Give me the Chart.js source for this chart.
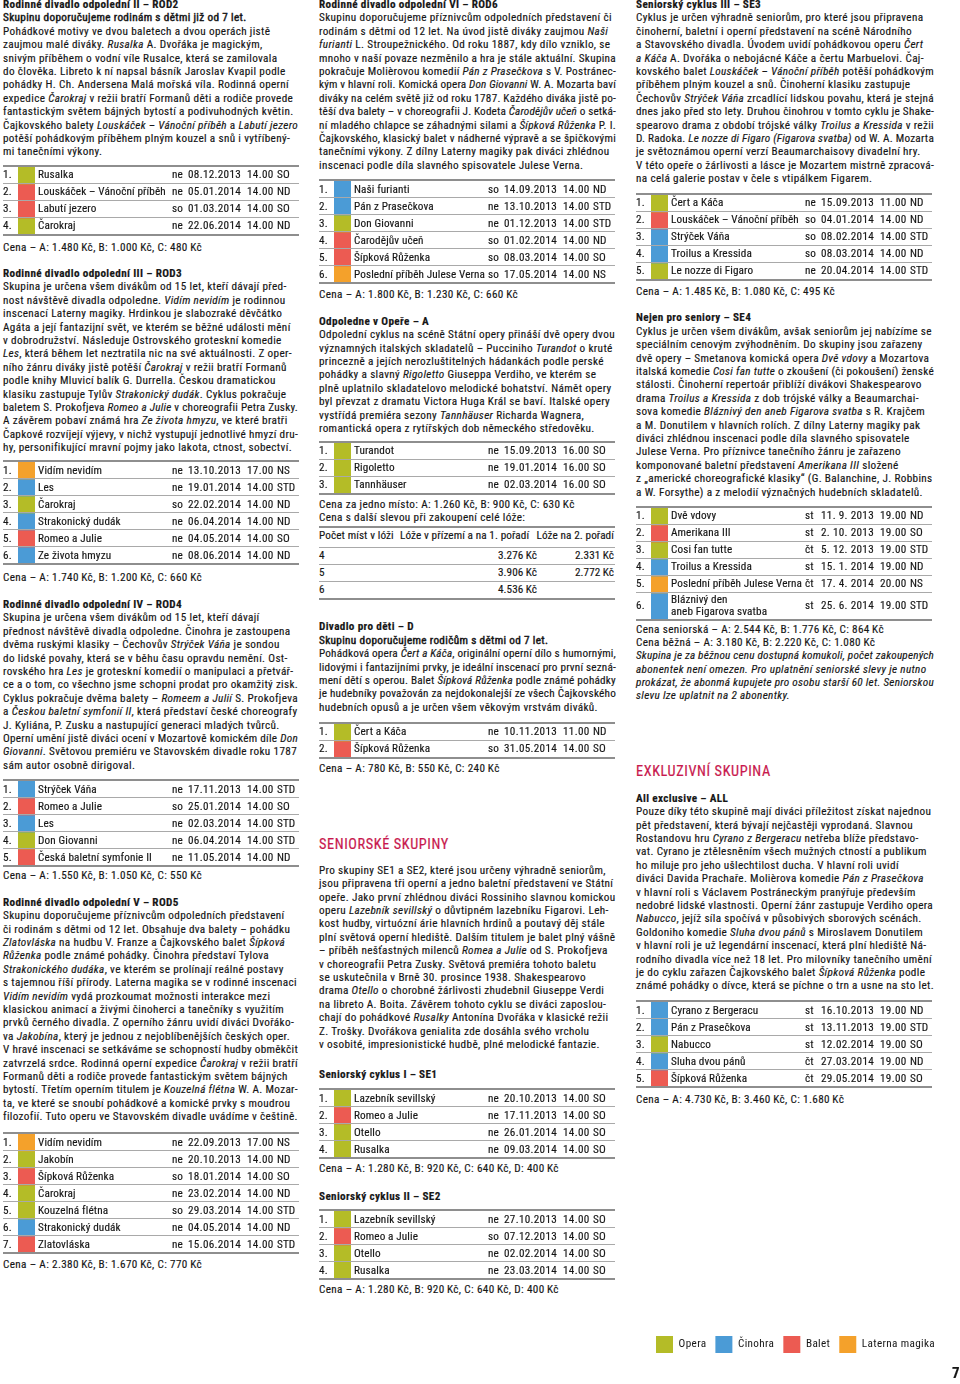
<!DOCTYPE html>
<html lang="cs">
<head>
<meta charset="utf-8">
<script src="https://cdn.jsdelivr.net/npm/chart.js@4.4.0/dist/chart.umd.min.js"></script>
<style>
html,body{margin:0;padding:0;background:#fff;}
body{width:960px;height:1384px;position:relative;overflow:hidden;font-family:"Liberation Sans Narrow","Roboto Condensed","Arial Narrow","Liberation Sans",sans-serif;font-size:11.2px;color:#161616;letter-spacing:0.35px;-webkit-text-stroke:0.15px #161616;}
.blk{position:absolute;white-space:nowrap;line-height:13.4px;}
.ln{width:max-content;white-space:nowrap;}
.m{-webkit-text-stroke:0.45px #161616;}
.tbl{position:absolute;width:296px;border-top:2px solid #8e8e8e;letter-spacing:0.12px;}
.row{position:relative;z-index:2;display:grid;grid-template-columns:15px 17px 137px 16px 59px 30px 22px;align-items:center;box-sizing:border-box;border-bottom:1px solid #a9a9a9;white-space:nowrap;line-height:13px;}
.row.last{border-bottom:2px solid #8e8e8e;}
.row .t{padding-left:3px;}
.row .t2{line-height:11.3px;}
.row .dt{letter-spacing:0.3px;}
.tbl canvas{position:absolute;left:15px;top:0;z-index:1;}
.h{position:absolute;color:#c8194e;-webkit-text-stroke:0.2px #c8194e;font-size:14.3px;letter-spacing:0.6px;line-height:16px;white-space:nowrap;}
.loge{position:absolute;width:296px;border-top:2px solid #8e8e8e;border-bottom:2px solid #8e8e8e;letter-spacing:0.1px;}
.lrow{position:relative;height:17px;line-height:16px;border-bottom:1px solid #a9a9a9;box-sizing:border-box;white-space:nowrap;}
.lrow.head{height:20px;}
.lrow.end{border-bottom:none;height:16px;}
.lrow span{position:absolute;top:0;}
.pg{position:absolute;left:952px;top:1364px;font-weight:bold;font-size:15px;line-height:18px;}
#legend{position:absolute;left:647px;top:1327px;}
</style>
</head>
<body>
<script>
// ---------- DATA ----------
const GENRES = ['Opera', 'Činohra', 'Balet', 'Laterna magika'];
const GENRE_COLORS = ['#b4bc27', '#4b9bd6', '#ec5b52', '#f4a12b'];

const rod2Titles = ['Rusalka', 'Louskáček – Vánoční příběh', 'Labutí jezero', 'Čarokraj'];
const rod2Genres = ['Opera', 'Balet', 'Balet', 'Opera'];
const rod2Slots = ['ne|08.12.2013|14.00|SO', 'ne|05.01.2014|14.00|ND', 'so|01.03.2014|14.00|SO', 'ne|22.06.2014|14.00|ND'];

const rod3Titles = ['Vidím nevidím', 'Les', 'Čarokraj', 'Strakonický dudák', 'Romeo a Julie', 'Ze života hmyzu'];
const rod3Genres = ['Laterna magika', 'Činohra', 'Opera', 'Činohra', 'Balet', 'Činohra'];
const rod3Slots = ['ne|13.10.2013|17.00|NS', 'ne|19.01.2014|14.00|STD', 'so|22.02.2014|14.00|ND', 'ne|06.04.2014|14.00|ND', 'ne|04.05.2014|14.00|SO', 'ne|08.06.2014|14.00|ND'];

const rod4Titles = ['Strýček Váňa', 'Romeo a Julie', 'Les', 'Don Giovanni', 'Česká baletní symfonie II'];
const rod4Genres = ['Činohra', 'Balet', 'Činohra', 'Opera', 'Balet'];
const rod4Slots = ['ne|17.11.2013|14.00|STD', 'so|25.01.2014|14.00|SO', 'ne|02.03.2014|14.00|STD', 'ne|06.04.2014|14.00|STD', 'ne|11.05.2014|14.00|ND'];

const rod5Titles = ['Vidím nevidím', 'Jakobín', 'Šípková Růženka', 'Čarokraj', 'Kouzelná flétna', 'Strakonický dudák', 'Zlatovláska'];
const rod5Genres = ['Laterna magika', 'Opera', 'Balet', 'Opera', 'Opera', 'Činohra', 'Balet'];
const rod5Slots = ['ne|22.09.2013|17.00|NS', 'ne|20.10.2013|14.00|ND', 'so|18.01.2014|14.00|SO', 'ne|23.02.2014|14.00|ND', 'so|29.03.2014|14.00|STD', 'ne|04.05.2014|14.00|ND', 'ne|15.06.2014|14.00|STD'];

const rod6Titles = ['Naši furianti', 'Pán z Prasečkova', 'Don Giovanni', 'Čarodějův učeň', 'Šípková Růženka', 'Poslední příběh Julese Verna'];
const rod6Genres = ['Činohra', 'Činohra', 'Opera', 'Balet', 'Balet', 'Laterna magika'];
const rod6Slots = ['so|14.09.2013|14.00|ND', 'ne|13.10.2013|14.00|STD', 'ne|01.12.2013|14.00|STD', 'so|01.02.2014|14.00|ND', 'so|08.03.2014|14.00|SO', 'so|17.05.2014|14.00|NS'];

const operaTitles = ['Turandot', 'Rigoletto', 'Tannhäuser'];
const operaGenres = ['Opera', 'Opera', 'Opera'];
const operaSlots = ['ne|15.09.2013|16.00|SO', 'ne|19.01.2014|16.00|SO', 'ne|02.03.2014|16.00|SO'];

const logeSeats = ['4', '5', '6'];
const logeGround = ['3.276', '3.906', '4.536'];
const logeSecond = ['2.331', '2.772', ''];

const detiTitles = ['Čert a Káča', 'Šípková Růženka'];
const detiGenres = ['Opera', 'Balet'];
const detiSlots = ['ne|10.11.2013|11.00|ND', 'so|31.05.2014|14.00|SO'];

const se1Titles = ['Lazebník sevillský', 'Romeo a Julie', 'Otello', 'Rusalka'];
const se1Genres = ['Opera', 'Balet', 'Opera', 'Opera'];
const se1Slots = ['ne|20.10.2013|14.00|SO', 'ne|17.11.2013|14.00|SO', 'ne|26.01.2014|14.00|SO', 'ne|09.03.2014|14.00|SO'];

const se2Titles = ['Lazebník sevillský', 'Romeo a Julie', 'Otello', 'Rusalka'];
const se2Genres = ['Opera', 'Balet', 'Opera', 'Opera'];
const se2Slots = ['ne|27.10.2013|14.00|SO', 'so|07.12.2013|14.00|SO', 'ne|02.02.2014|14.00|SO', 'ne|23.03.2014|14.00|SO'];

const se3Titles = ['Čert a Káča', 'Louskáček – Vánoční příběh', 'Strýček Váňa', 'Troilus a Kressida', 'Le nozze di Figaro'];
const se3Genres = ['Opera', 'Balet', 'Činohra', 'Činohra', 'Opera'];
const se3Slots = ['ne|15.09.2013|11.00|ND', 'so|04.01.2014|14.00|ND', 'so|08.02.2014|14.00|STD', 'so|08.03.2014|14.00|ND', 'ne|20.04.2014|14.00|STD'];

const se4Titles = ['Dvě vdovy', 'Amerikana III', 'Cosi fan tutte', 'Troilus a Kressida', 'Poslední příběh Julese Verna', 'Bláznivý den\naneb Figarova svatba'];
const se4Genres = ['Opera', 'Balet', 'Opera', 'Činohra', 'Laterna magika', 'Činohra'];
const se4Slots = ['st|11. 9. 2013|19.00|ND', 'st|2. 10. 2013|19.00|SO', 'čt|5. 12. 2013|19.00|STD', 'st|15. 1. 2014|19.00|ND', 'čt|17. 4. 2014|20.00|NS', 'st|25. 6. 2014|19.00|STD'];

const allTitles = ['Cyrano z Bergeracu', 'Pán z Prasečkova', 'Nabucco', 'Sluha dvou pánů', 'Šípková Růženka'];
const allGenres = ['Činohra', 'Činohra', 'Opera', 'Činohra', 'Balet'];
const allSlots = ['st|16.10.2013|19.00|ND', 'st|13.11.2013|19.00|STD', 'st|12.02.2014|19.00|SO', 'čt|27.03.2014|19.00|ND', 'čt|29.05.2014|19.00|SO'];

// ---------- RENDERING ----------
const FONT = '"Liberation Sans Narrow","Roboto Condensed","Arial Narrow","Liberation Sans",sans-serif';
Chart.defaults.font.family = FONT;
const K = '\u2009Kč';
const ROW_H = 17, ROW_H2 = 27;
const COL_MAX = { 3: 295, 319: 297, 636: 298 };
const lineEls = [];
const titleEls = [];

function T(x, cy, lines, lh) {
  const d = document.createElement('div');
  d.className = 'blk';
  d.style.left = x + 'px';
  d.style.top = (cy - 7) + 'px';
  if (lh) d.style.lineHeight = lh + 'px';
  lines.forEach(s => {
    const l = document.createElement('div');
    l.className = 'ln';
    l.innerHTML = s;
    d.appendChild(l);
    lineEls.push([l, COL_MAX[x]]);
  });
  document.body.appendChild(d);
}
function H(x, cy, txt) {
  const d = document.createElement('div');
  d.className = 'h';
  d.style.left = x + 'px';
  d.style.top = (cy - 8) + 'px';
  d.textContent = txt;
  document.body.appendChild(d);
}
function table(x, top, titles, genres, slots) {
  const t = document.createElement('div');
  t.className = 'tbl';
  t.style.left = x + 'px';
  t.style.top = top + 'px';
  const heights = titles.map(s => s.includes('\n') ? ROW_H2 : ROW_H);
  titles.forEach((title, i) => {
    const last = i === titles.length - 1;
    const r = document.createElement('div');
    r.className = 'row' + (last ? ' last' : '');
    r.style.height = (heights[i] + (last ? 1 : 0)) + 'px';
    const [day, date, time, venue] = slots[i].split('|');
    const two = title.includes('\n');
    r.innerHTML = '<span>' + (i + 1) + '.</span><span></span>' +
      '<span class="t' + (two ? ' t2' : '') + '"><span class="tt">' + title.replace('\n', '<br>') + '</span></span>' +
      '<span>' + day + '</span><span class="dt">' + date + '</span><span class="dt">' + time + '</span><span>' + venue + '</span>';
    t.appendChild(r);
  });
  const total = heights.reduce((a, b) => a + b, 0);
  const cv = document.createElement('canvas');
  cv.width = 17; cv.height = total;
  cv.style.width = '17px'; cv.style.height = total + 'px';
  t.appendChild(cv);
  document.body.appendChild(t);
  t.querySelectorAll('.tt').forEach(e => titleEls.push(e));
  new Chart(cv, {
    type: 'bar',
    data: {
      labels: [''],
      datasets: titles.map((ti, i) => ({
        label: ti,
        data: [heights[i]],
        backgroundColor: GENRE_COLORS[GENRES.indexOf(genres[i])],
        borderWidth: 0,
        barPercentage: 1,
        categoryPercentage: 1
      }))
    },
    options: {
      responsive: false, animation: false, events: [],
      layout: { padding: 0 },
      plugins: { legend: { display: false }, tooltip: { enabled: false } },
      scales: {
        x: { display: false, stacked: true },
        y: { display: false, stacked: true, reverse: true, min: 0, max: total }
      }
    }
  });
}
function loge(x, top) {
  const d = document.createElement('div');
  d.className = 'loge';
  d.style.left = x + 'px';
  d.style.top = top + 'px';
  let h = '<div class="lrow head"><span style="left:0">Počet míst v lóži</span><span style="left:81px">Lóže v přízemí a na 1. pořadí</span><span style="right:1px">Lóže na 2. pořadí</span></div>';
  logeSeats.forEach((s, i) => {
    const end = i === logeSeats.length - 1 ? ' end' : '';
    h += '<div class="lrow' + end + '"><span style="left:0">' + s + '</span>' +
      '<span style="right:78px">' + logeGround[i] + (logeGround[i] ? K : '') + '</span>' +
      '<span style="right:1px">' + logeSecond[i] + (logeSecond[i] ? K : '') + '</span></div>';
  });
  d.innerHTML = h;
  document.body.appendChild(d);
}

// ----- Column 1 -----
T(3, 5, [
  '<b>Rodinné divadlo odpolední II – ROD2</b>',
  '<span class="m">Skupinu doporučujeme rodinám s dětmi již od 7 let.</span>',
  'Pohádkové motivy ve dvou baletech a dvou operách jistě',
  'zaujmou malé diváky. <i>Rusalka</i> A. Dvořáka je magickým,',
  'snivým příběhem o vodní víle Rusalce, která se zamilovala',
  'do člověka. Libreto k ní napsal básník Jaroslav Kvapil podle',
  'pohádky H. Ch. Andersena Malá mořská víla. Rodinná operní',
  'expedice <i>Čarokraj</i> v režii bratří Formanů děti a rodiče provede',
  'fantastickým světem bájných bytostí a podivuhodných květin.',
  'Čajkovského balety <i>Louskáček – Vánoční příběh</i> a <i>Labutí jezero</i>',
  'potěší pohádkovým příběhem plným kouzel a snů i vytříbený-',
  'mi tanečními výkony.'
]);
table(3, 164.5, rod2Titles, rod2Genres, rod2Slots);
T(3, 248, ['Cena – A: 1.480' + K + ', B: 1.000' + K + ', C: 480' + K]);

T(3, 274, [
  '<b>Rodinné divadlo odpolední III – ROD3</b>',
  'Skupina je určena všem divákům od 15 let, kteří dávají před-',
  'nost návštěvě divadla odpoledne. <i>Vidím nevidím</i> je rodinnou',
  'inscenací Laterny magiky. Hrdinkou je slabozraké děvčátko',
  'Agáta a její fantazijní svět, ve kterém se běžné události mění',
  'v dobrodružství. Následuje Ostrovského groteskní komedie',
  '<i>Les</i>, která během let neztratila nic na své aktuálnosti. Z oper-',
  'ního žánru diváky jistě potěší <i>Čarokraj</i> v režii bratří Formanů',
  'podle knihy Mluvicí balík G. Durrella. Českou dramatickou',
  'klasiku zastupuje Tylův <i>Strakonický dudák</i>. Cyklus pokračuje',
  'baletem S. Prokofjeva <i>Romeo a Julie</i> v choreografii Petra Zusky.',
  'A závěrem pobaví známá hra <i>Ze života hmyzu</i>, ve které bratři',
  'Čapkové rozvíjejí výjevy, v nichž vystupují jednotlivé hmyzí dru-',
  'hy, personifikující mravní pojmy jako lakota, ctnost, sobectví.'
]);
table(3, 460, rod3Titles, rod3Genres, rod3Slots);
T(3, 578, ['Cena – A: 1.740' + K + ', B: 1.200' + K + ', C: 660' + K]);

T(3, 605, [
  '<b>Rodinné divadlo odpolední IV – ROD4</b>',
  'Skupina je určena všem divákům od 15 let, kteří dávají',
  'přednost návštěvě divadla odpoledne. Činohra je zastoupena',
  'dvěma ruskými klasiky – Čechovův <i>Strýček Váňa</i> je sondou',
  'do lidské povahy, která se v běhu času opravdu nemění. Ost-',
  'rovského hra <i>Les</i> je groteskní komedií o manipulaci a přetvář-',
  'ce a o tom, co všechno jsme schopni prodat pro okamžitý zisk.',
  'Cyklus pokračuje dvěma balety – <i>Romeem a Julií</i> S. Prokofjeva',
  'a <i>Českou baletní symfonií II</i>, která představí české choreografy',
  'J. Kyliána, P. Zusku a nastupující generaci mladých tvůrců.',
  'Operní umění jistě diváci ocení v Mozartově komickém díle <i>Don</i>',
  '<i>Giovanni</i>. Světovou premiéru ve Stavovském divadle roku 1787',
  'sám autor osobně dirigoval.'
]);
table(3, 779, rod4Titles, rod4Genres, rod4Slots);
T(3, 876, ['Cena – A: 1.550' + K + ', B: 1.050' + K + ', C: 550' + K]);

T(3, 902.7, [
  '<b>Rodinné divadlo odpolední V – ROD5</b>',
  'Skupinu doporučujeme příznivcům odpoledních představení',
  'či rodinám s dětmi od 12 let. Obsahuje dva balety – pohádku',
  '<i>Zlatovláska</i> na hudbu V. Franze a Čajkovského balet <i>Šípková</i>',
  '<i>Růženka</i> podle známé pohádky. Činohra představí Tylova',
  '<i>Strakonického dudáka</i>, ve kterém se prolínají reálné postavy',
  's tajemnou říší přírody. Laterna magika se v rodinné inscenaci',
  '<i>Vidím nevidím</i> vydá prozkoumat možnosti interakce mezi',
  'klasickou animací a živými činoherci a tanečníky s využitím',
  'prvků černého divadla. Z operního žánru uvidí diváci Dvořáko-',
  'va <i>Jakobína</i>, který je jednou z nejoblíbenějších českých oper.',
  'V hravé inscenaci se setkáváme se schopností hudby obměkčit',
  'zatvrzelá srdce. Rodinná operní expedice <i>Čarokraj</i> v režii bratří',
  'Formanů děti a rodiče provede fantastickým světem bájných',
  'bytostí. Třetím operním titulem je <i>Kouzelná flétna</i> W. A. Mozar-',
  'ta, ve které se snoubí pohádkové a komické prvky s moudrou',
  'filozofií. Tuto operu ve Stavovském divadle uvádíme v češtině.'
]);
table(3, 1132, rod5Titles, rod5Genres, rod5Slots);
T(3, 1265, ['Cena – A: 2.380' + K + ', B: 1.670' + K + ', C: 770' + K]);

// ----- Column 2 -----
T(319, 5, [
  '<b>Rodinné divadlo odpolední VI – ROD6</b>',
  'Skupinu doporučujeme příznivcům odpoledních představení či',
  'rodinám s dětmi od 12 let. Na úvod jistě diváky zaujmou <i>Naši</i>',
  '<i>furianti</i> L. Stroupežnického. Od roku 1887, kdy dílo vzniklo, se',
  'mnoho v naší povaze nezměnilo a hra je stále aktuální. Skupina',
  'pokračuje Molièrovou komedií <i>Pán z Prasečkova</i> s V. Postránec-',
  'kým v hlavní roli. Komická opera <i>Don Giovanni</i> W. A. Mozarta baví',
  'diváky na celém světě již od roku 1787. Každého diváka jistě po-',
  'těší dva balety – v choreografii J. Kodeta <i>Čarodějův učeň</i> o setká-',
  'ní mladého chlapce se záhadnými silami a <i>Šípková Růženka</i> P. I.',
  'Čajkovského, klasický balet v nádherné výpravě a se špičkovými',
  'tanečními výkony. Z dílny Laterny magiky pak diváci zhlédnou',
  'inscenaci podle díla slavného spisovatele Julese Verna.'
]);
table(319, 179, rod6Titles, rod6Genres, rod6Slots);
T(319, 295, ['Cena – A: 1.800' + K + ', B: 1.230' + K + ', C: 660' + K]);

T(319, 321.7, [
  '<b>Odpoledne v Opeře – A</b>',
  'Odpolední cyklus na scéně Státní opery přináší dvě opery dvou',
  'významných italských skladatelů – Pucciniho <i>Turandot</i> o kruté',
  'princezně a jejích nerozluštitelných hádankách podle perské',
  'pohádky a slavný <i>Rigoletto</i> Giuseppa Verdiho, ve kterém se',
  'plně uplatnilo skladatelovo melodické bohatství. Námět opery',
  'byl převzat z dramatu Victora Huga Král se baví. Italské opery',
  'vystřídá premiéra sezony <i>Tannhäuser</i> Richarda Wagnera,',
  'romantická opera z rytířských dob německého středověku.'
]);
table(319, 440.5, operaTitles, operaGenres, operaSlots);
T(319, 504.7, [
  'Cena za jedno místo: A: 1.260' + K + ', B: 900' + K + ', C: 630' + K,
  'Cena s další slevou při zakoupení celé lóže:'
]);
loge(319, 525.5);

T(319, 627.3, [
  '<b>Divadlo pro děti – D</b>',
  '<span class="m">Skupinu doporučujeme rodičům s dětmi od 7 let.</span>',
  'Pohádková opera <i>Čert a Káča</i>, originální operní dílo s humornými,',
  'lidovými i fantazijními prvky, je ideální inscenací pro první sezná-',
  'mení dětí s operou. Balet <i>Šípková Růženka</i> podle známé pohádky',
  'je hudebníky považován za nejdokonalejší ze všech Čajkovského',
  'hudebních opusů a je určen všem věkovým vrstvám diváků.'
]);
table(319, 721.5, detiTitles, detiGenres, detiSlots);
T(319, 769.3, ['Cena – A: 780' + K + ', B: 550' + K + ', C: 240' + K]);

H(319, 844, 'SENIORSKÉ SKUPINY');
T(319, 870.7, [
  'Pro skupiny SE1 a SE2, které jsou určeny výhradně seniorům,',
  'jsou připravena tři operní a jedno baletní představení ve Státní',
  'opeře. Jako první zhlédnou diváci Rossiniho slavnou komickou',
  'operu <i>Lazebník sevillský</i> o důvtipném lazebníku Figarovi. Leh-',
  'kost hudby, virtuózní árie hlavních hrdinů a poutavý děj stále',
  'plní světová operní hlediště. Dalším titulem je balet plný vášně',
  '– příběh nešťastných milenců <i>Romea a Julie</i> od S. Prokofjeva',
  'v choreografii Petra Zusky. Světová premiéra tohoto baletu',
  'se uskutečnila v Brně 30. prosince 1938. Shakespearovo',
  'drama <i>Otello</i> o chorobné žárlivosti zhudebnil Giuseppe Verdi',
  'na libreto A. Boita. Závěrem tohoto cyklu se diváci zaposlou-',
  'chají do pohádkové <i>Rusalky</i> Antonína Dvořáka v klasické režii',
  'Z. Trošky. Dvořákova genialita zde dosáhla svého vrcholu',
  'v osobité, impresionistické hudbě, plné melodické fantazie.'
]);
T(319, 1075, ['<b>Seniorský cyklus I – SE1</b>']);
table(319, 1088.3, se1Titles, se1Genres, se1Slots);
T(319, 1169, ['Cena – A: 1.280' + K + ', B: 920' + K + ', C: 640' + K + ', D: 400' + K]);
T(319, 1196.7, ['<b>Seniorský cyklus II – SE2</b>']);
table(319, 1209.3, se2Titles, se2Genres, se2Slots);
T(319, 1290, ['Cena – A: 1.280' + K + ', B: 920' + K + ', C: 640' + K + ', D: 400' + K]);

// ----- Column 3 -----
T(636, 5, [
  '<b>Seniorský cyklus III – SE3</b>',
  'Cyklus je určen výhradně seniorům, pro které jsou připravena',
  'činoherní, baletní i operní představení na scéně Národního',
  'a Stavovského divadla. Úvodem uvidí pohádkovou operu <i>Čert</i>',
  '<i>a Káča</i> A. Dvořáka o nebojácné Káče a čertu Marbuelovi. Čaj-',
  'kovského balet <i>Louskáček – Vánoční příběh</i> potěší pohádkovým',
  'příběhem plným kouzel a snů. Činoherní klasiku zastupuje',
  'Čechovův <i>Strýček Váňa</i> zrcadlící lidskou povahu, která je stejná',
  'dnes jako před sto lety. Druhou činohrou v tomto cyklu je Shake-',
  'spearovo drama z období trójské války <i>Troilus a Kressida</i> v režii',
  'D. Radoka. <i>Le nozze di Figaro (Figarova svatba)</i> od W. A. Mozarta',
  'je světoznámou operní verzí Beaumarchaisovy divadelní hry.',
  'V této opeře o žárlivosti a lásce je Mozartem mistrně zpracová-',
  'na celá galerie postav v čele s vtipálkem Figarem.'
]);
table(636, 192.5, se3Titles, se3Genres, se3Slots);
T(636, 291.7, ['Cena – A: 1.485' + K + ', B: 1.080' + K + ', C: 495' + K]);

T(636, 318.3, [
  '<b>Nejen pro seniory – SE4</b>',
  'Cyklus je určen všem divákům, avšak seniorům jej nabízíme se',
  'speciálním cenovým zvýhodněním. Do skupiny jsou zařazeny',
  'dvě opery – Smetanova komická opera <i>Dvě vdovy</i> a Mozartova',
  'italská komedie <i>Cosi fan tutte</i> o zkoušení (či pokoušení) ženské',
  'stálosti. Činoherní repertoár přiblíží divákovi Shakespearovo',
  'drama <i>Troilus a Kressida</i> z dob trójské války a Beaumarchai-',
  'sova komedie <i>Bláznivý den aneb Figarova svatba</i> s R. Krajčem',
  'a M. Donutilem v hlavních rolích. Z dílny Laterny magiky pak',
  'diváci zhlédnou inscenaci podle díla slavného spisovatele',
  'Julese Verna. Pro příznivce tanečního žánru je zařazeno',
  'komponované baletní představení <i>Amerikana III</i> složené',
  'z „americké choreografické klasiky“ (G. Balanchine, J. Robbins',
  'a W. Forsythe) a z melodií význačných hudebních skladatelů.'
]);
table(636, 505.5, se4Titles, se4Genres, se4Slots);
T(636, 630, [
  'Cena seniorská – A: 2.544' + K + ', B: 1.776' + K + ', C: 864' + K,
  'Cena běžná – A: 3.180' + K + ', B: 2.220' + K + ', C: 1.080' + K,
  '<i>Skupina je za běžnou cenu dostupná komukoli, počet zakoupených</i>',
  '<i>abonentek není omezen. Pro uplatnění seniorské slevy je nutno</i>',
  '<i>prokázat, že abonmá kupujete pro osobu starší 60 let. Seniorskou</i>',
  '<i>slevu lze uplatnit na 2 abonentky.</i>'
], 13.2);

H(636, 770.7, 'EXKLUZIVNÍ SKUPINA');
T(636, 798.7, [
  '<b>All exclusive – ALL</b>',
  'Pouze díky této skupině mají diváci příležitost získat najednou',
  'pět představení, která bývají nejčastěji vyprodaná. Slavnou',
  'Rostandovu hru <i>Cyrano z Bergeracu</i> netřeba blíže představo-',
  'vat. Cyrano je ztělesněním všech mužných ctností a publikum',
  'ho miluje pro jeho ušlechtilost ducha. V hlavní roli uvidí',
  'diváci Davida Prachaře. Molièrova komedie <i>Pán z Prasečkova</i>',
  'v hlavní roli s Václavem Postráneckým pranýřuje především',
  'nedobré lidské vlastnosti. Operní žánr zastupuje Verdiho opera',
  '<i>Nabucco</i>, jejíž síla spočívá v působivých sborových scénách.',
  'Goldoniho komedie <i>Sluha dvou pánů</i> s Miroslavem Donutilem',
  'v hlavní roli je už legendární inscenací, která plní hlediště Ná-',
  'rodního divadla více než 18 let. Pro milovníky tanečního umění',
  'je do cyklu zařazen Čajkovského balet <i>Šípková Růženka</i> podle',
  'známé pohádky o dívce, která se píchne o trn a usne na sto let.'
]);
table(636, 1000, allTitles, allGenres, allSlots);
T(636, 1100, ['Cena – A: 4.730' + K + ', B: 3.460' + K + ', C: 1.680' + K]);

// keep every hand-broken line inside its column
lineEls.forEach(([el, maxW]) => {
  const w = el.getBoundingClientRect().width;
  if (w > maxW) {
    const n = el.textContent.length || 1;
    el.style.letterSpacing = (0.35 - (w - maxW) / n) + 'px';
  }
});
// keep table titles clear of the day column
titleEls.forEach(el => {
  const w = el.getBoundingClientRect().width;
  const maxW = 131;
  if (w > maxW) {
    const n = el.textContent.length || 1;
    el.style.letterSpacing = (0.12 - (w - maxW) / n) + 'px';
  }
});

// ----- Legend (Chart.js) -----
const lg = document.createElement('canvas');
lg.id = 'legend';
lg.width = 330; lg.height = 80;
lg.style.width = '330px'; lg.style.height = '80px';
document.body.appendChild(lg);
new Chart(lg, {
  type: 'bar',
  data: {
    labels: [],
    datasets: GENRES.map((g, i) => ({ label: g, data: [], backgroundColor: GENRE_COLORS[i], borderWidth: 0 }))
  },
  options: {
    responsive: false, animation: false, events: [],
    layout: { padding: 0 },
    plugins: {
      legend: {
        display: true, position: 'top', align: 'start',
        labels: { boxWidth: 17, boxHeight: 17, padding: 9, color: '#161616', font: { family: FONT, size: 11.2 } }
      },
      tooltip: { enabled: false }
    },
    scales: { x: { display: false }, y: { display: false } }
  }
});

const pg = document.createElement('div');
pg.className = 'pg';
pg.textContent = '7';
document.body.appendChild(pg);
</script>
</body>
</html>
